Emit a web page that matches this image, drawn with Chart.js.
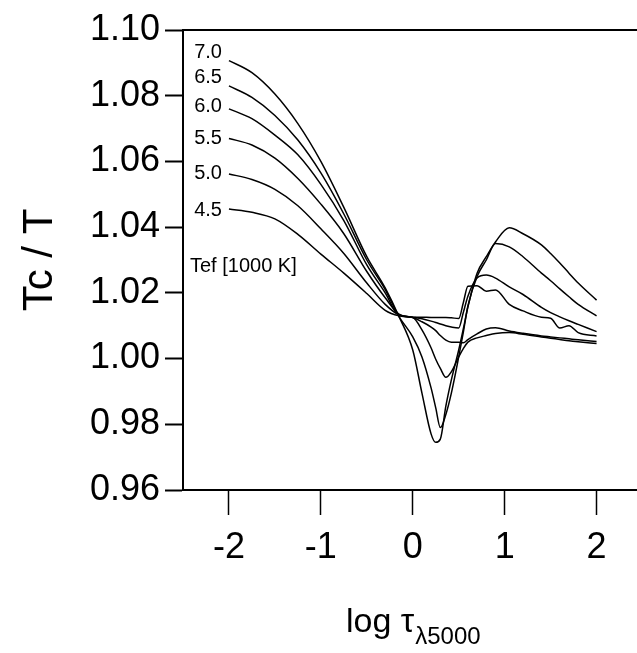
<!DOCTYPE html>
<html>
<head>
<meta charset="utf-8">
<script src="https://cdn.jsdelivr.net/npm/chart.js@4"></script>
<style>
  html, body { margin: 0; padding: 0; background: #fff; }
  canvas { display: block; }
</style>
</head>
<body>
<canvas id="myChart" width="637" height="653"></canvas>
<script>
// log tau (5000 A) grid shared by every curve
const logTau = [-2, -1.75, -1.5, -1.25, -1, -0.75, -0.5, -0.3, -0.15, 0,
    0.1, 0.2, 0.25, 0.3, 0.36, 0.42, 0.5, 0.55, 0.6, 0.7,
    0.8, 0.9, 1.05, 1.2, 1.4, 1.5, 1.6, 1.7, 1.8, 2];

// Tc / T for each effective temperature (1000 K)
const tef70 = [1.0907, 1.087, 1.0805, 1.0715, 1.060, 1.046, 1.031, 1.0215, 1.0128, 1.0026,
    0.9895, 0.977, 0.9745, 0.9755, 0.9855, 0.9935, 1.0026, 1.009, 1.0157, 1.026,
    1.031, 1.0355, 1.0398, 1.038, 1.0346, 1.032, 1.0291, 1.026, 1.023, 1.0178];
const tef65 = [1.083, 1.0795, 1.074, 1.0665, 1.0565, 1.044, 1.030, 1.021, 1.0128, 1.0066,
    1.0005, 0.991, 0.985, 0.979, 0.983, 0.9895, 1.0005, 1.008, 1.016, 1.025,
    1.030, 1.035, 1.034, 1.031, 1.026, 1.0237, 1.0212, 1.0188, 1.0165, 1.013];
const tef60 = [1.076, 1.073, 1.068, 1.062, 1.053, 1.042, 1.0285, 1.020, 1.0132, 1.0125,
    1.0087, 1.0032, 0.9998, 0.997, 0.9943, 0.996, 1.0005, 1.003, 1.005, 1.0063,
    1.007, 1.0076, 1.0079, 1.0074, 1.0066, 1.0062, 1.0058, 1.0054, 1.0051, 1.0046];
const tef55 = [1.067, 1.065, 1.061, 1.0548, 1.047, 1.038, 1.0265, 1.0185, 1.0135, 1.0125,
    1.0112, 1.0096, 1.0085, 1.007, 1.0056, 1.005, 1.005, 1.0048, 1.0058, 1.0075,
    1.009, 1.0094, 1.0084, 1.0077, 1.0069, 1.0066, 1.0063, 1.006, 1.0057, 1.0052];
const tef50 = [1.0562, 1.0545, 1.0515, 1.0465, 1.0395, 1.032, 1.023, 1.0165, 1.0133, 1.0126,
    1.0121, 1.0114, 1.011, 1.0105, 1.010, 1.0096, 1.0093, 1.014, 1.019, 1.0245,
    1.0254, 1.0245, 1.0218, 1.0195, 1.0156, 1.014, 1.0127, 1.0115, 1.0104, 1.0082];
const tef45 = [1.0455, 1.0445, 1.0425, 1.0378, 1.0318, 1.026, 1.0198, 1.0147, 1.013, 1.0126,
    1.0126, 1.0125, 1.0125, 1.0125, 1.0125, 1.0124, 1.0122, 1.017, 1.022, 1.0222,
    1.0205, 1.0209, 1.0165, 1.0145, 1.0126, 1.0123, 1.0093, 1.0100, 1.0079, 1.0069];

const tefLabels = ["7.0", "6.5", "6.0", "5.5", "5.0", "4.5"];
const xTicks = [-2, -1, 0, 1, 2];
const yTicks = [0.96, 0.98, 1.00, 1.02, 1.04, 1.06, 1.08, 1.10];

const FONT = 'Arial, "Liberation Sans", sans-serif';
const series = [tef70, tef65, tef60, tef55, tef50, tef45];
// small vertical nudges so the labels sit like the original
const labelNudge = [-8, -8, -2, 0, 0, 1];

const annotate = {
    id: "annotate",
    afterDraw(chart) {
        const {ctx, chartArea, scales: {x, y}} = chart;
        ctx.save();
        // top frame line
        ctx.strokeStyle = "#000";
        ctx.lineWidth = 2;
        ctx.beginPath();
        ctx.moveTo(chartArea.left, chartArea.top);
        ctx.lineTo(chartArea.right, chartArea.top);
        ctx.stroke();

        // curve labels
        ctx.fillStyle = "#000";
        ctx.font = "20px " + FONT;
        ctx.textAlign = "right";
        ctx.textBaseline = "middle";
        chart.data.datasets.forEach((ds, i) => {
            const p = ds.data[0];
            ctx.fillText(ds.label, x.getPixelForValue(p.x) - 7, y.getPixelForValue(p.y) + labelNudge[i]);
        });
        ctx.textAlign = "left";
        ctx.font = "20px " + FONT;
        ctx.fillText("Tef [1000 K]", chartArea.left + 7, chartArea.top + 236);

        // x axis title with subscript
        const main = "log τ", sub = "λ5000";
        ctx.font = "34px " + FONT;
        const w1 = ctx.measureText(main).width;
        ctx.font = "24px " + FONT;
        const w2 = ctx.measureText(sub).width;
        const x0 = x.getPixelForValue(0) - (w1 + w2) / 2;
        ctx.textBaseline = "alphabetic";
        ctx.font = "34px " + FONT;
        ctx.fillText(main, x0, 632);
        ctx.font = "24px " + FONT;
        ctx.fillText(sub, x0 + w1 + 1, 644);
        ctx.restore();
    }
};

const ctx = document.getElementById("myChart").getContext("2d");
new Chart(ctx, {
    type: "line",
    data: {
        datasets: series.map((s, i) => ({
            label: tefLabels[i],
            data: logTau.map((t, j) => ({x: t, y: s[j]})),
            borderColor: "#000",
            borderWidth: 1.5,
            pointRadius: 0,
            fill: false,
            cubicInterpolationMode: "monotone"
        }))
    },
    options: {
        responsive: false,
        animation: false,
        layout: {padding: {top: 30, right: 0, bottom: 0, left: 0}},
        plugins: {legend: {display: false}, tooltip: {enabled: false}},
        scales: {
            x: {
                type: "linear",
                min: -2.5,
                max: 2.44,
                afterBuildTicks: s => { s.ticks = xTicks.map(v => ({value: v})); },
                afterFit: s => { s.height = 163; },
                grid: {drawOnChartArea: false, drawTicks: true, tickLength: 25, tickWidth: 1.5, tickColor: "#000"},
                border: {display: true, color: "#000", width: 2},
                ticks: {
                    color: "#000",
                    font: {family: FONT, size: 36},
                    padding: 11,
                    maxRotation: 0,
                    callback: v => String(v)
                }
            },
            y: {
                type: "linear",
                min: 0.96,
                max: 1.10,
                afterBuildTicks: s => { s.ticks = yTicks.map(v => ({value: v})); },
                afterFit: s => { s.width = 183; },
                grid: {drawOnChartArea: false, drawTicks: true, tickLength: 18, tickWidth: 2, tickColor: "#000"},
                border: {display: true, color: "#000", width: 2},
                ticks: {
                    color: "#000",
                    font: {family: FONT, size: 36},
                    padding: 5,
                    callback: v => v.toFixed(2)
                },
                title: {
                    display: true,
                    text: "Tc / T",
                    color: "#000",
                    font: {family: FONT, size: 42},
                    padding: {top: 15, bottom: 0}
                }
            }
        }
    },
    plugins: [annotate]
});
</script>
</body>
</html>
